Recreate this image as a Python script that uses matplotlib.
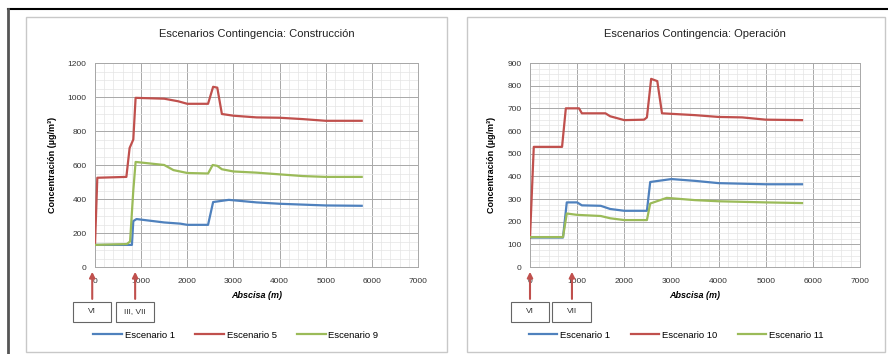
import numpy as np
import matplotlib.pyplot as plt
from matplotlib.patches import Rectangle
from matplotlib.lines import Line2D
from matplotlib.ticker import MultipleLocator

plt.rcParams['font.family'] = ['Liberation Sans', 'DejaVu Sans']

# ---- Construccion (left chart) ----
esc1_c_x = [0, 800, 830, 900, 1200, 1500, 1850, 2000, 2450, 2560, 2900, 3500, 4000, 5000, 5780]
esc1_c_y = [130, 130, 270, 282, 272, 262, 255, 248, 248, 382, 395, 380, 372, 362, 360]
esc5_c_x = [0, 50, 680, 750, 830, 880, 1500, 1800, 2000, 2450, 2560, 2650, 2750, 3000, 3500, 4000, 4500, 5000, 5780]
esc5_c_y = [130, 525, 530, 700, 750, 995, 990, 975, 960, 960, 1060, 1055, 900, 890, 880, 878, 870, 860, 860]
esc9_c_x = [0, 690, 760, 830, 880, 1500, 1700, 2000, 2450, 2550, 2650, 2750, 3000, 3500, 4000, 4500, 5000, 5780]
esc9_c_y = [130, 135, 150, 450, 618, 600, 570, 553, 550, 600, 595, 575, 562, 555, 545, 535, 530, 530]

# ---- Operacion (right chart) ----
esc1_o_x = [0, 700, 780, 1000, 1100, 1500, 1700, 2000, 2480, 2550, 3000, 3500, 4000, 5000, 5770]
esc1_o_y = [130, 130, 285, 285, 272, 270, 256, 248, 248, 375, 388, 380, 370, 365, 365]
esc10_o_x = [0, 80, 680, 760, 1040, 1100, 1600, 1700, 2000, 2420, 2480, 2570, 2700, 2800, 3500, 4000, 4500, 5000, 5770]
esc10_o_y = [130, 530, 530, 700, 700, 678, 678, 665, 648, 650, 660, 830, 820, 678, 670, 662, 660, 650, 648]
esc11_o_x = [0, 700, 780, 1000, 1500, 1700, 2000, 2480, 2550, 2900, 3500, 4000, 5000, 5770]
esc11_o_y = [132, 132, 236, 230, 225, 215, 207, 207, 280, 305, 295, 290, 285, 282]

blue = '#4F81BD'
red = '#C0504D'
green = '#9BBB59'

fig = plt.figure(figsize=(8.88, 3.54), dpi=100)
W, H = 888.0, 354.0


def px_rect(x0, y0, x1, y1):  # pixel box (top-left origin) -> figure fraction
    return [x0 / W, 1 - y1 / H, (x1 - x0) / W, (y1 - y0) / H]


# outer frame and chart boxes
fig.add_artist(Line2D([8 / W, 1], [1 - 9 / H, 1 - 9 / H], color='black', lw=1.5))
fig.add_artist(Line2D([8 / W, 8 / W], [0, 1 - 9 / H], color='#555555', lw=2))
for bx in [(26, 17, 447, 352), (467, 17, 885, 352)]:
    r = px_rect(*bx)
    fig.add_artist(Rectangle((r[0], r[1]), r[2], r[3], transform=fig.transFigure,
                             fill=False, ec='#c8c8c8', lw=1))


def draw_panel(rect, title, series, ymax, ystep, marks, legend_x):
    ax = fig.add_axes(px_rect(*rect))
    for xs, ys, c, lab in series:
        ax.plot(xs, ys, color=c, lw=1.6, label=lab, zorder=3)
    ax.set_xlim(0, 7000)
    ax.set_ylim(0, ymax)
    ax.xaxis.set_major_locator(MultipleLocator(1000))
    ax.xaxis.set_minor_locator(MultipleLocator(200))
    ax.yaxis.set_major_locator(MultipleLocator(ystep))
    ax.yaxis.set_minor_locator(MultipleLocator(ystep / 4))
    ax.grid(which='major', color='#a8a8a8', lw=0.7)
    ax.grid(which='minor', color='#e4e4e4', lw=0.5)
    ax.set_axisbelow(True)
    ax.tick_params(which='both', length=0, labelsize=6, colors='#333333')
    ax.tick_params(axis='x', pad=8)
    ax.tick_params(axis='y', pad=6)
    for s in ax.spines.values():
        s.set_color('#a8a8a8')
        s.set_linewidth(0.7)
    ax.set_title(title, fontsize=8, pad=19, color='#222222')
    ax.set_xlabel('Abscisa (m)', fontsize=6.5, fontweight='bold', style='italic', labelpad=4)
    ax.set_ylabel('Concentración (µg/m³)', fontsize=6.5, fontweight='bold', labelpad=8)
    # arrows with boxed labels under the x axis
    for xm, txt in marks:
        ax.annotate('', xy=(xm, -0.01), xytext=(xm, -0.17),
                    xycoords=('data', 'axes fraction'), textcoords=('data', 'axes fraction'),
                    arrowprops=dict(arrowstyle='-|>', color=red, lw=1.5, mutation_scale=8),
                    annotation_clip=False)
        bw = 0.118 * 7000
        ax.add_patch(Rectangle((xm - bw / 2, -0.27), bw, 0.10,
                               transform=ax.get_xaxis_transform(), fill=False,
                               ec='#666666', lw=0.8, clip_on=False))
        ax.text(xm, -0.22, txt, transform=ax.get_xaxis_transform(), ha='center',
                va='center', fontsize=6, color='#333333')
    fig.legend(*ax.get_legend_handles_labels(), loc='center', ncol=3,
               bbox_to_anchor=(legend_x / W, 1 - 335 / H), frameon=False,
               fontsize=6.8, handlelength=3, columnspacing=2.2, handletextpad=0.3)
    return ax


draw_panel((95, 63, 418, 267), 'Escenarios Contingencia: Construcción',
           [(esc1_c_x, esc1_c_y, blue, 'Escenario 1'),
            (esc5_c_x, esc5_c_y, red, 'Escenario 5'),
            (esc9_c_x, esc9_c_y, green, 'Escenario 9')],
           1200, 200, [(-60, 'VI'), (870, 'III, VII')], 236)

draw_panel((530, 63, 860, 267), 'Escenarios Contingencia: Operación',
           [(esc1_o_x, esc1_o_y, blue, 'Escenario 1'),
            (esc10_o_x, esc10_o_y, red, 'Escenario 10'),
            (esc11_o_x, esc11_o_y, green, 'Escenario 11')],
           900, 100, [(0, 'VI'), (890, 'VII')], 676)

fig.savefig('out.png', dpi=100)
